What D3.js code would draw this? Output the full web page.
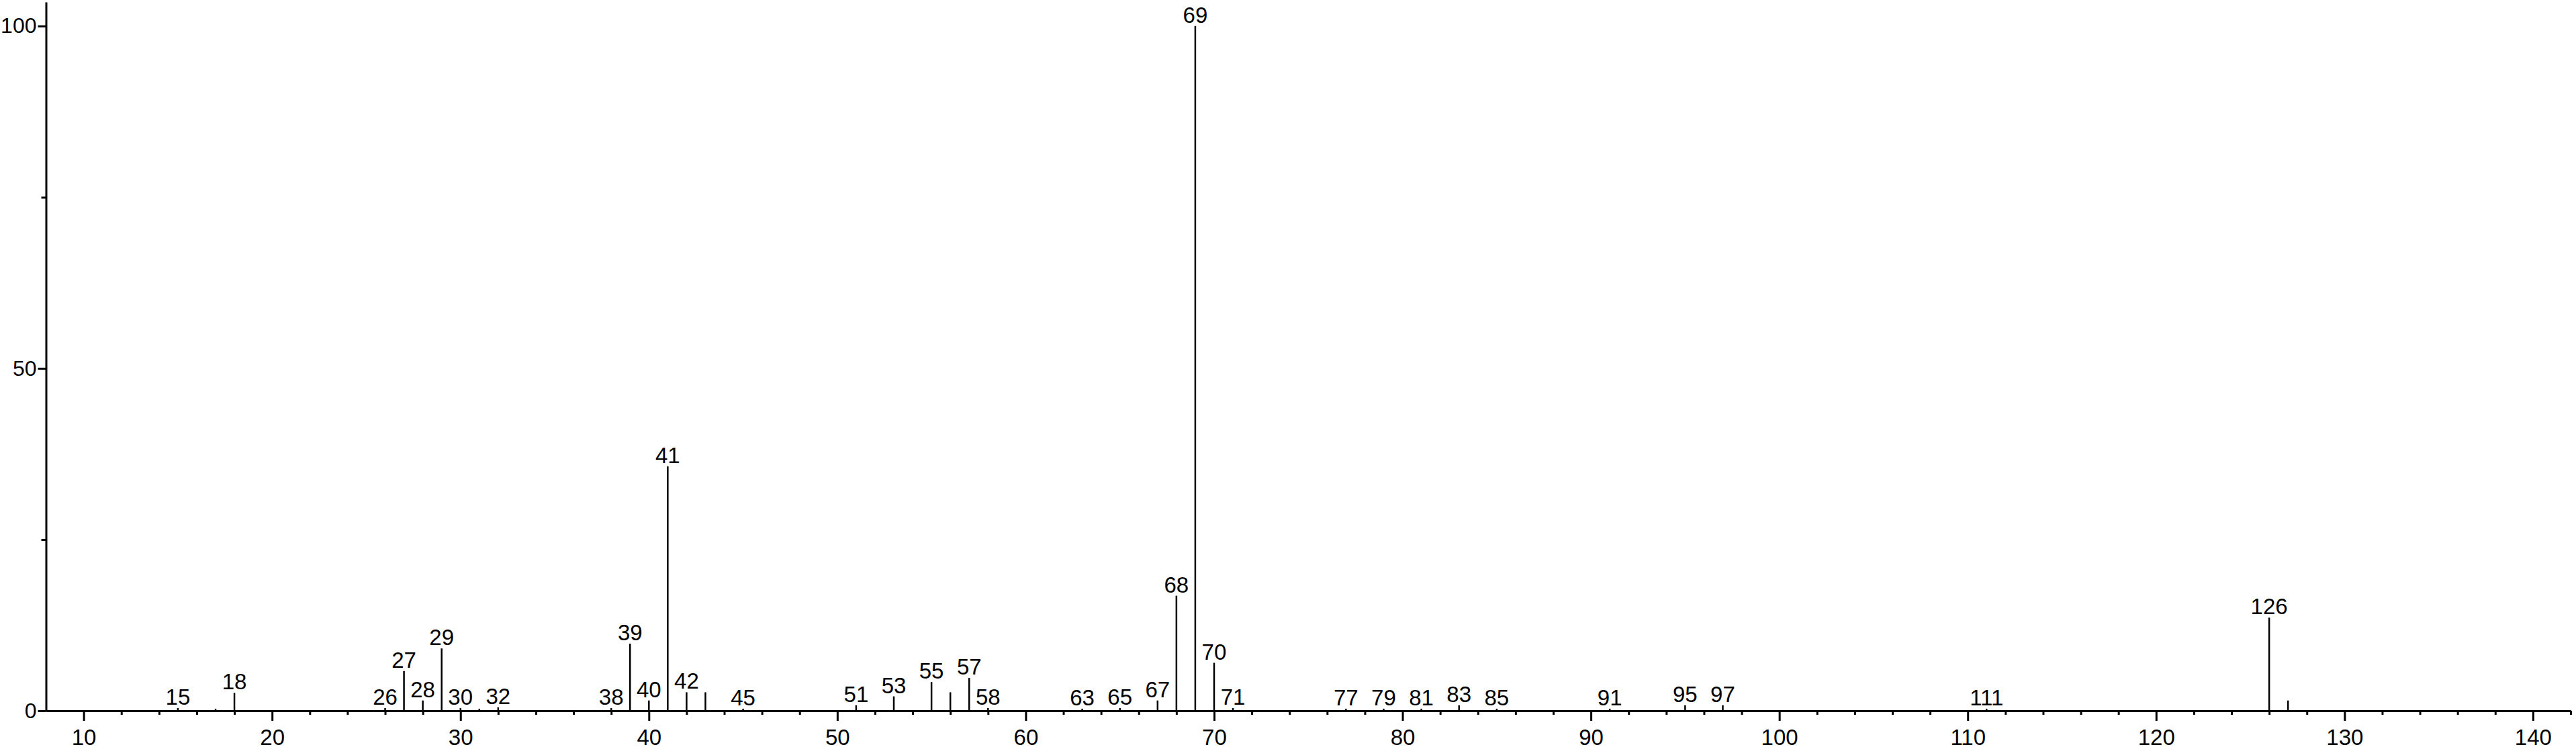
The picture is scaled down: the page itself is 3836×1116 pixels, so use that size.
<!DOCTYPE html>
<html>
<head>
<meta charset="utf-8">
<script src="https://cdn.jsdelivr.net/npm/d3@7"></script>
<style>
  html, body { margin: 0; padding: 0; background: #fff; }
  svg { display: block; }
  text { font-family: "Liberation Sans", Arial, sans-serif; fill: #000; }
</style>
</head>
<body>
<svg id="chart" width="3836" height="1116"></svg>
<script>
// m/z values of the peaks
const mz = [15, 17, 18, 26, 27, 28, 29, 30, 31, 32, 38, 39, 40, 41, 42, 43, 45, 51, 53, 55, 56, 57, 58, 63, 65, 67, 68, 69, 70, 71, 77, 79, 81, 83, 85, 91, 95, 97, 111, 126, 127];
// relative intensities (%)
const intensity = [0.4, 0.3, 2.6, 0.4, 5.8, 1.5, 9.1, 0.4, 0.3, 0.5, 0.4, 9.8, 1.5, 35.7, 2.7, 2.7, 0.3, 0.8, 2.1, 4.2, 2.7, 4.8, 0.4, 0.3, 0.4, 1.5, 16.8, 100, 7.0, 0.4, 0.3, 0.3, 0.3, 0.8, 0.3, 0.3, 0.8, 0.8, 0.3, 13.6, 1.5];
// peaks that carry an m/z label
const labeled = [15, 18, 26, 27, 28, 29, 30, 32, 38, 39, 40, 41, 42, 45, 51, 53, 55, 57, 58, 63, 65, 67, 68, 69, 70, 71, 77, 79, 81, 83, 85, 91, 95, 97, 111, 126];
// axis ticks
const xMajorTicks = [10, 20, 30, 40, 50, 60, 70, 80, 90, 100, 110, 120, 130, 140];
const xMinorTicks = [12, 14, 16, 18, 22, 24, 26, 28, 32, 34, 36, 38, 42, 44, 46, 48, 52, 54, 56, 58, 62, 64, 66, 68, 72, 74, 76, 78, 82, 84, 86, 88, 92, 94, 96, 98, 102, 104, 106, 108, 112, 114, 116, 118, 122, 124, 126, 128, 132, 134, 136, 138, 142];
const yMajorTicks = [0, 50, 100];
const yMinorTicks = [25, 75];

const peaks = mz.map((m, i) => ({ mz: m, v: intensity[i], label: labeled.includes(m) }));

const svg = d3.select("#chart");
const x = d3.scaleLinear().domain([8, 142]).range([68.5, 3828]);
const y = d3.scaleLinear().domain([0, 103.5]).range([1059, 3]);

const fontSize = 33;
const yFontSize = 32;

// X minor ticks
svg.append("g")
  .attr("transform", `translate(0,${y(0)})`)
  .call(d3.axisBottom(x).tickValues(xMinorTicks).tickSize(6).tickFormat(""))
  .call(g => g.select(".domain").remove())
  .call(g => g.selectAll("line").attr("stroke", "#000").attr("stroke-width", 3));

// X major ticks + labels
svg.append("g")
  .attr("transform", `translate(0,${y(0)})`)
  .call(d3.axisBottom(x).tickValues(xMajorTicks).tickSize(15).tickPadding(13).tickFormat(d3.format("d")).tickSizeOuter(0))
  .call(g => g.select(".domain").attr("stroke", "#000").attr("stroke-width", 3))
  .call(g => g.selectAll("line").attr("stroke", "#000").attr("stroke-width", 3))
  .call(g => g.selectAll("text").attr("font-size", fontSize).attr("font-family", "Liberation Sans, Arial, sans-serif").attr("fill", "#000"));

// Y minor ticks
svg.append("g")
  .attr("transform", `translate(${x(8)},0)`)
  .call(d3.axisLeft(y).tickValues(yMinorTicks).tickSize(7).tickFormat(""))
  .call(g => g.select(".domain").remove())
  .call(g => g.selectAll("line").attr("stroke", "#000").attr("stroke-width", 3));

// Y major ticks + labels
svg.append("g")
  .attr("transform", `translate(${x(8)},0)`)
  .call(d3.axisLeft(y).tickValues(yMajorTicks).tickSize(12).tickPadding(2).tickFormat(d3.format("d")).tickSizeOuter(0))
  .call(g => g.select(".domain").attr("stroke", "#000").attr("stroke-width", 3))
  .call(g => g.selectAll("line").attr("stroke", "#000").attr("stroke-width", 3))
  .call(g => g.selectAll("text").attr("font-size", yFontSize).attr("font-family", "Liberation Sans, Arial, sans-serif").attr("fill", "#000"));

// Peaks
svg.append("g").selectAll("line")
  .data(peaks)
  .join("line")
  .attr("x1", d => x(d.mz)).attr("x2", d => x(d.mz))
  .attr("y1", y(0)).attr("y2", d => y(d.v))
  .attr("stroke", "#000").attr("stroke-width", 2.5);

// Peak labels
svg.append("g").selectAll("text")
  .data(peaks.filter(d => d.label))
  .join("text")
  .attr("x", d => x(d.mz))
  .attr("y", d => y(d.v) - 5)
  .attr("text-anchor", "middle")
  .attr("font-size", fontSize)
  .text(d => d.mz);
</script>
</body>
</html>
